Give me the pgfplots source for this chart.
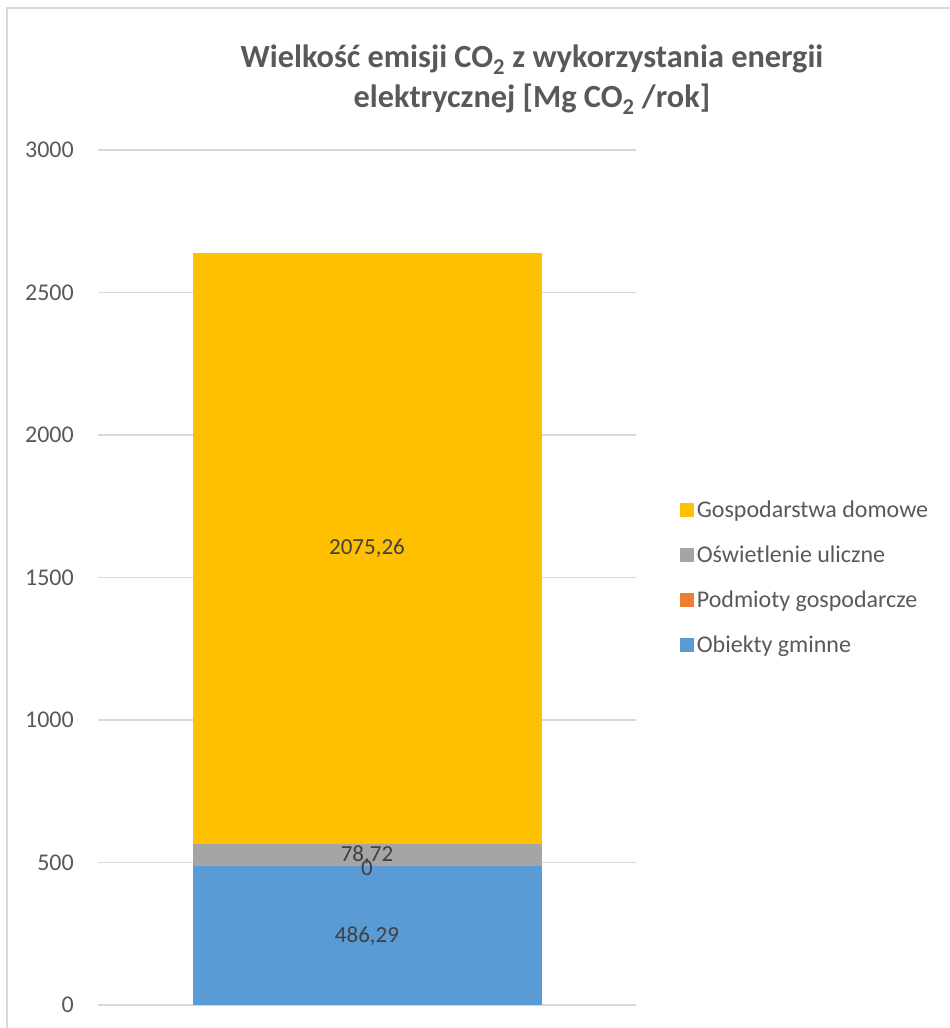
\documentclass[border=0pt]{standalone}
\usepackage{pgfplots}
\pgfplotsset{compat=1.18}
\usepackage{fontspec}
\setmainfont{Carlito}
\definecolor{cblue}{HTML}{5B9BD5}
\definecolor{corange}{HTML}{ED7D31}
\definecolor{cgray}{HTML}{A5A5A5}
\definecolor{cyellow}{HTML}{FFC000}
\definecolor{txt}{HTML}{595959}
\definecolor{lbl}{HTML}{404040}
\definecolor{gridc}{HTML}{D9D9D9}
\begin{document}
\begin{tikzpicture}[x=1pt,y=1pt]
  \path[use as bounding box] (0,0) rectangle (950,1028);
  % chart frame
  \draw[gridc, line width=1.5pt] (7,-5) -- (7,1020) -- (960,1020);
  % title
  \node[txt, font=\fontsize{32.3}{40}\selectfont\bfseries, align=center, anchor=base]
    at (532,920) {Wielkość emisji CO\textsubscript{2} z wykorzystania energii\\elektrycznej [Mg CO\textsubscript{2} /rok]};
  \begin{axis}[
      at={(98pt,23pt)}, anchor=south west,
      scale only axis, width=538pt, height=855pt,
      xmin=0, xmax=1, ymin=0, ymax=3000,
      ybar stacked, bar width=349pt, bar shift=0pt,
      axis line style={draw=none},
      xtick=\empty,
      ytick={0,500,...,3000},
      ymajorgrids, grid style={gridc, line width=1.5pt},
      major tick length=0pt,
      yticklabel style={anchor=east, inner sep=0pt, xshift=-24pt, text=txt,
        font=\fontsize{24}{28}\selectfont},
      /pgf/number format/assume math mode=true,
      /pgf/number format/1000 sep={},
      legend image code/.code={\path[#1, draw=none] (0pt,-7pt) rectangle (14pt,7pt);},
      reverse legend,
      legend cell align=left,
      legend style={at={(1.082,0.590)}, anchor=north west, draw=none, fill=none,
        inner sep=0pt, row sep=27pt, text=txt,
        font=\fontsize{24}{28}\selectfont,
        nodes={inner xsep=2.5pt, inner ysep=0pt}},
    ]
    \addplot[fill=cblue, draw=none] coordinates {(0.5,486.29)};
    \addplot[fill=corange, draw=none] coordinates {(0.5,0)};
    \addplot[fill=cgray, draw=none] coordinates {(0.5,78.72)};
    \addplot[fill=cyellow, draw=none] coordinates {(0.5,2075.26)};
    \legend{Obiekty gminne, Podmioty gospodarcze, Oświetlenie uliczne, Gospodarstwa domowe}
  \end{axis}
  % data labels, centred in each segment
  \begin{axis}[
      at={(98pt,23pt)}, anchor=south west,
      scale only axis, width=538pt, height=855pt,
      xmin=0, xmax=1, ymin=0, ymax=3000,
      hide axis,
    ]
    \addplot[draw=none, mark=none, nodes near coords, point meta=explicit symbolic,
      every node near coord/.append style={anchor=center, text=lbl,
        font=\fontsize{23}{27}\selectfont}]
      coordinates {
        (0.5,243.145) [{486,29}]
        (0.5,482) [{0}]
        (0.5,525.65) [{78,72}]
        (0.5,1602.64) [{2075,26}]
      };
  \end{axis}
\end{tikzpicture}
\end{document}
